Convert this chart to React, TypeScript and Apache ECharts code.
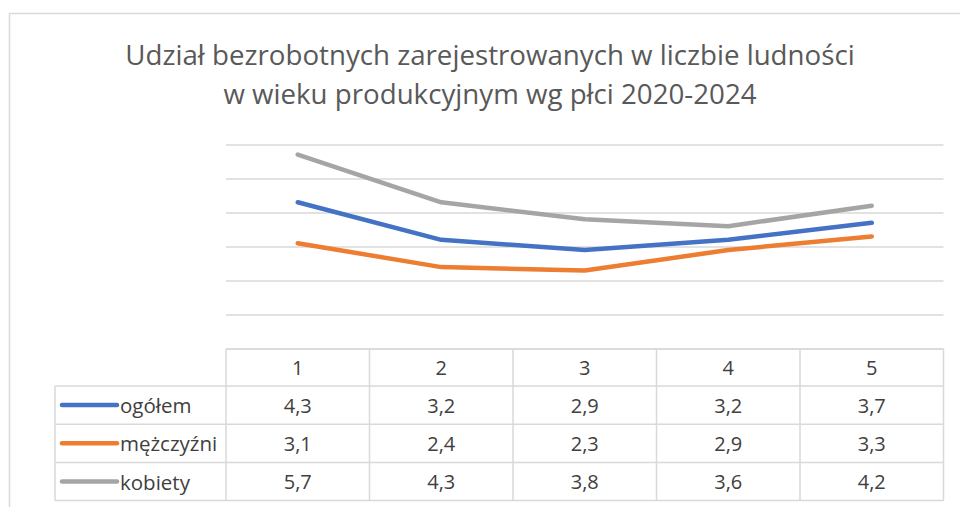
import React, { useEffect, useRef } from "react";
import * as echarts from "echarts";

const titleLines = [
  "Udział bezrobotnych zarejestrowanych w liczbie ludności",
  "w wieku produkcyjnym wg płci 2020-2024",
];
const categories = ["1", "2", "3", "4", "5"];
const seriesNames = ["ogółem", "mężczyźni", "kobiety"];
const ogolem = [4.3, 3.2, 2.9, 3.2, 3.7];
const mezczyzni = [3.1, 2.4, 2.3, 2.9, 3.3];
const kobiety = [5.7, 4.3, 3.8, 3.6, 4.2];
const seriesData = [ogolem, mezczyzni, kobiety];
const colors = ["#4472C4", "#ED7D31", "#A5A5A5"];

const W = 960;
const H = 507;
const gridLeft = 226;
const gridRight = 943.5;
const gridTop = 144.3;
const gridBottom = 349;
const headerH = 37;
const rowH = 38.2;
const legendLeft = 55;
const FONT = "'Open Sans', sans-serif";
const lineColor = "#d9d9d9";

function fmt(v: number) {
  return v.toFixed(1).replace(".", ",");
}

export default function App() {
  const ref = useRef<HTMLDivElement>(null);
  useEffect(() => {
    if (!ref.current) return;
    const chart = echarts.init(ref.current, null, { renderer: "svg" });
    const colW = (gridRight - gridLeft) / categories.length;
    const tableBottom = gridBottom + headerH + rowH * seriesNames.length;
    const g: any[] = [];
    // outer border
    g.push({
      type: "rect",
      shape: { x: 9.5, y: 13.5, width: 1000, height: 600 },
      style: { fill: "none", stroke: lineColor, lineWidth: 1.5 },
      silent: true,
    });
    // horizontal table lines
    g.push({
      type: "line",
      shape: { x1: gridLeft, y1: gridBottom, x2: gridRight, y2: gridBottom },
      style: { stroke: lineColor, lineWidth: 1.5 },
    });
    for (let r = 0; r <= seriesNames.length; r++) {
      const y = gridBottom + headerH + rowH * r;
      g.push({
        type: "line",
        shape: { x1: legendLeft, y1: y, x2: gridRight, y2: y },
        style: { stroke: lineColor, lineWidth: 1.5 },
      });
    }
    // vertical lines
    g.push({
      type: "line",
      shape: { x1: legendLeft, y1: gridBottom + headerH, x2: legendLeft, y2: tableBottom },
      style: { stroke: lineColor, lineWidth: 1.5 },
    });
    for (let c = 0; c <= categories.length; c++) {
      const x = gridLeft + colW * c;
      g.push({
        type: "line",
        shape: { x1: x, y1: gridBottom, x2: x, y2: tableBottom },
        style: { stroke: lineColor, lineWidth: 1.5 },
      });
    }
    // header texts
    categories.forEach((cat, c) => {
      g.push({
        type: "text",
        x: gridLeft + colW * (c + 0.5),
        y: gridBottom + headerH / 2,
        style: {
          text: cat,
          fill: "#404040",
          font: `20px ${FONT}`,
          align: "center",
          verticalAlign: "middle",
        },
      });
    });
    // rows
    seriesNames.forEach((name, r) => {
      const yc = gridBottom + headerH + rowH * (r + 0.5);
      g.push({
        type: "line",
        shape: { x1: 62, y1: yc, x2: 117, y2: yc },
        style: { stroke: colors[r], lineWidth: 4.5, lineCap: "round" },
      });
      g.push({
        type: "text",
        x: 120,
        y: yc,
        style: {
          text: name,
          fill: "#404040",
          font: `20.5px ${FONT}`,
          align: "left",
          verticalAlign: "middle",
        },
      });
      seriesData[r].forEach((v, c) => {
        g.push({
          type: "text",
          x: gridLeft + colW * (c + 0.5),
          y: yc,
          style: {
            text: fmt(v),
            fill: "#404040",
            font: `20px ${FONT}`,
            align: "center",
            verticalAlign: "middle",
          },
        });
      });
    });

    chart.setOption({
      animation: false,
      title: {
        text: titleLines.join("\n"),
        left: 485,
        textAlign: "center",
        top: 30,
        textStyle: {
          fontFamily: FONT,
          fontSize: 27.7,
          fontWeight: "normal",
          color: "#595959",
          lineHeight: 38.4,
        },
      },
      grid: {
        left: gridLeft,
        right: W - gridRight,
        top: gridTop,
        bottom: H - gridBottom,
        containLabel: false,
      },
      xAxis: {
        type: "category",
        data: categories,
        boundaryGap: true,
        axisLine: { show: false },
        axisTick: { show: false },
        axisLabel: { show: false },
      },
      yAxis: {
        type: "value",
        min: 0,
        max: 6,
        interval: 1,
        axisLine: { show: false },
        axisTick: { show: false },
        axisLabel: { show: false },
        splitLine: { lineStyle: { color: lineColor, width: 1.5 } },
      },
      series: seriesNames.map((name, i) => ({
        name,
        type: "line",
        data: seriesData[i],
        symbol: "none",
        lineStyle: { color: colors[i], width: 4.5, cap: "round", join: "round" },
        itemStyle: { color: colors[i] },
      })),
      graphic: g,
    });
    return () => chart.dispose();
  }, []);
  return (
    <div
      ref={ref}
      style={{ position: "fixed", left: 0, top: 0, width: W, height: H, background: "#fff" }}
    />
  );
}
